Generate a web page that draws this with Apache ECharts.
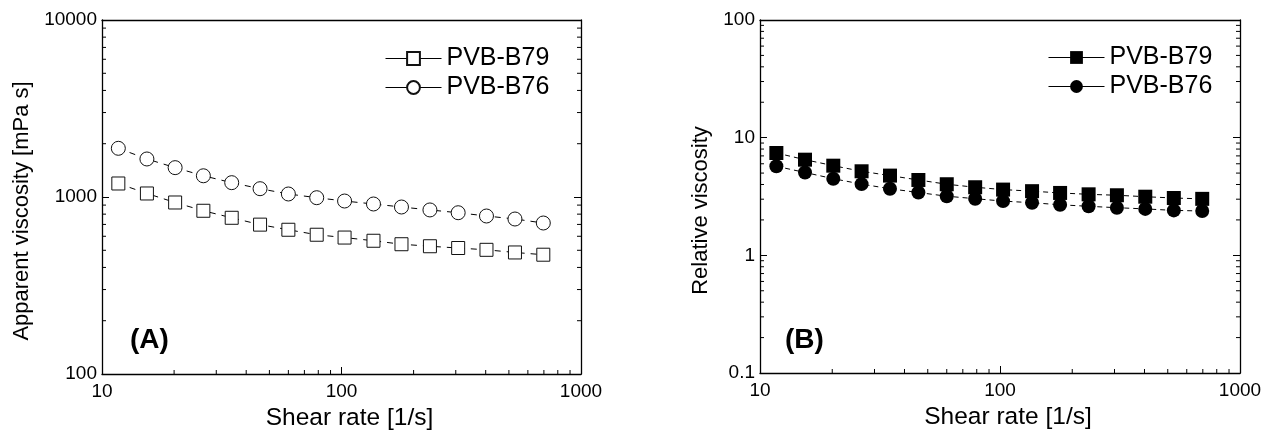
<!DOCTYPE html>
<html><head><meta charset="utf-8">
<script src="https://cdn.jsdelivr.net/npm/echarts@6/dist/echarts.min.js"></script>
<style>html,body{margin:0;padding:0;background:#fff}#c{width:1270px;height:437px}</style>
</head><body><div id="c"></div>
<script>
// ---- data ----
const shearRate = [11.7, 15.4, 20.2, 26.5, 34.8, 45.7, 60.0, 78.8, 103, 136, 178, 234, 307, 403, 530, 696];
const apparentB79 = [1192, 1047, 931, 836, 763, 698, 653, 612, 590, 566, 541, 527, 515, 503, 486, 472];
const apparentB76 = [1884, 1640, 1465, 1318, 1205, 1114, 1040, 991, 949, 913, 878, 845, 815, 781, 751, 713];
const relativeB79 = [7.41, 6.50, 5.78, 5.18, 4.76, 4.37, 4.02, 3.79, 3.62, 3.51, 3.39, 3.30, 3.24, 3.15, 3.07, 3.02];
const relativeB76 = [5.71, 5.06, 4.48, 4.03, 3.68, 3.42, 3.18, 3.03, 2.89, 2.80, 2.69, 2.61, 2.54, 2.48, 2.41, 2.38];
const seriesNames = ['PVB-B79', 'PVB-B76'];
const panelLabels = ['(A)', '(B)'];
const xTitle = 'Shear rate [1/s]';
const yTitles = ['Apparent viscosity [mPa s]', 'Relative viscosity'];
const xRange = [10, 1000];
const yRanges = [[100, 10000], [0.1, 100]];

const FONT = "'Liberation Sans', Arial, sans-serif";
const minorX = [];
for (const d of [10, 100]) for (let k = 2; k <= 9; k++) minorX.push(k * d);
function minorY(r) {
  const out = [];
  for (let d = r[0]; d < r[1]; d *= 10) for (let k = 2; k <= 9; k++) out.push(+(k * d).toPrecision(3));
  return out;
}
const zip = (xs, ys) => xs.map((x, i) => [x, ys[i]]);
const plainLabel = v => String(+Number(v).toPrecision(3));

const grids = [
  {left: 102, top: 20, width: 479, height: 354},
  {left: 760, top: 20, width: 480, height: 353}
];

const xAxes = [], yAxes = [], series = [];
[0, 1].forEach(g => {
  xAxes.push({
    type: 'log', logBase: 10, gridIndex: g, min: xRange[0], max: xRange[1],
    splitNumber: 2, position: 'bottom',
    axisLine: {show: true, onZero: false, lineStyle: {color: '#000', width: 1.3}},
    axisTick: {show: true, inside: true, length: 7, lineStyle: {color: '#000', width: 1}},
    axisLabel: {color: '#000', fontSize: 19, fontFamily: FONT, margin: 8, formatter: plainLabel},
    splitLine: {show: false},
    name: xTitle, nameLocation: 'middle', nameGap: 32,
    nameTextStyle: {color: '#000', fontSize: 24.5, fontFamily: FONT, padding: [0, 0, 0, 16]}
  });
  yAxes.push({
    type: 'log', logBase: 10, gridIndex: g, min: yRanges[g][0], max: yRanges[g][1],
    splitNumber: g === 0 ? 2 : 3, position: 'left',
    axisLine: {show: true, onZero: false, lineStyle: {color: '#000', width: 1.3}},
    axisTick: {show: true, inside: true, length: 7, lineStyle: {color: '#000', width: 1}},
    axisLabel: {color: '#000', fontSize: 19, fontFamily: FONT, margin: 5, formatter: plainLabel},
    splitLine: {show: false},
    name: yTitles[g], nameLocation: 'middle', nameGap: g === 0 ? 69 : 48,
    nameTextStyle: {color: '#000', fontSize: 22, fontFamily: FONT, padding: [0, 28, 0, 0]}
  });
});
[0, 1].forEach(g => {
  xAxes.push({
    type: 'log', logBase: 10, gridIndex: g, min: xRange[0], max: xRange[1], position: 'top',
    axisLine: {show: true, onZero: false, lineStyle: {color: '#000', width: 1.3}},
    axisTick: {show: false}, axisLabel: {show: false}, splitLine: {show: false}
  });
  yAxes.push({
    type: 'log', logBase: 10, gridIndex: g, min: yRanges[g][0], max: yRanges[g][1],
    splitNumber: g === 0 ? 2 : 3, position: 'right',
    axisLine: {show: true, onZero: false, lineStyle: {color: '#000', width: 1.3}},
    axisTick: {show: true, inside: true, length: 7, lineStyle: {color: '#000', width: 1}},
    axisLabel: {show: false}, splitLine: {show: false}
  });
});

// minor ticks (log 2..9) drawn through the axes' scales
function xTickSeries(g) {
  return {
    type: 'custom', xAxisIndex: g, yAxisIndex: g, silent: true, clip: false, z: 1,
    data: minorX.map(v => [v, yRanges[g][0]]),
    renderItem(params, api) {
      const p = api.coord([api.value(0), api.value(1)]);
      const cs = params.coordSys;
      const yb = cs.y + cs.height;
      return {type: 'line', shape: {x1: p[0], y1: yb, x2: p[0], y2: yb - 4},
        style: {stroke: '#000', lineWidth: 1}};
    }
  };
}
function yTickSeries(g) {
  return {
    type: 'custom', xAxisIndex: g, yAxisIndex: g, silent: true, clip: false, z: 1,
    data: minorY(yRanges[g]).map(v => [xRange[0], v]),
    renderItem(params, api) {
      const p = api.coord([api.value(0), api.value(1)]);
      const cs = params.coordSys;
      return {type: 'group', children: [
        {type: 'line', shape: {x1: cs.x, y1: p[1], x2: cs.x + 4, y2: p[1]}, style: {stroke: '#000', lineWidth: 1}},
        {type: 'line', shape: {x1: cs.x + cs.width, y1: p[1], x2: cs.x + cs.width - 4, y2: p[1]}, style: {stroke: '#000', lineWidth: 1}}
      ]};
    }
  };
}
series.push(xTickSeries(0), yTickSeries(0), xTickSeries(1), yTickSeries(1));

const dashed = {color: '#000', width: 1, type: [6, 6]};
series.push(
  {name: seriesNames[0], type: 'line', xAxisIndex: 0, yAxisIndex: 0, data: zip(shearRate, apparentB79),
   symbol: 'rect', symbolSize: 13, lineStyle: dashed,
   itemStyle: {color: '#fff', borderColor: '#111', borderWidth: 1}},
  {name: seriesNames[1], type: 'line', xAxisIndex: 0, yAxisIndex: 0, data: zip(shearRate, apparentB76),
   symbol: 'circle', symbolSize: 14, lineStyle: dashed,
   itemStyle: {color: '#fff', borderColor: '#111', borderWidth: 1}},
  {name: seriesNames[0] + ' (B)', type: 'line', xAxisIndex: 1, yAxisIndex: 1, data: zip(shearRate, relativeB79),
   symbol: 'rect', symbolSize: 14, lineStyle: {color: '#000', width: 1, type: [5, 4]},
   itemStyle: {color: '#000'}},
  {name: seriesNames[1] + ' (B)', type: 'line', xAxisIndex: 1, yAxisIndex: 1, data: zip(shearRate, relativeB76),
   symbol: 'circle', symbolSize: 14, lineStyle: {color: '#000', width: 1, type: [5, 4]},
   itemStyle: {color: '#000'}}
);

const legendBase = {
  orient: 'vertical', itemWidth: 56, itemHeight: 16, itemGap: 4, selectedMode: false,
  textStyle: {color: '#000', fontSize: 25, fontFamily: FONT},
  lineStyle: {type: 'solid', width: 1, color: '#000'},
  formatter: n => n.replace(' (B)', '')
};

const option = {
  animation: false,
  backgroundColor: '#fff',
  grid: grids,
  xAxis: xAxes,
  yAxis: yAxes,
  title: [
    {text: panelLabels[0], left: 130, top: 326, textStyle: {fontSize: 28, fontWeight: 'bold', color: '#000', fontFamily: FONT}, padding: 0},
    {text: panelLabels[1], left: 785, top: 326, textStyle: {fontSize: 28, fontWeight: 'bold', color: '#000', fontFamily: FONT}, padding: 0}
  ],
  legend: [
    Object.assign({}, legendBase, {left: 385, top: 46, padding: 0, data: seriesNames.slice()}),
    Object.assign({}, legendBase, {left: 1048, top: 45, padding: 0, data: seriesNames.map(n => n + ' (B)')})
  ],
  series: series
};
const chart = echarts.init(document.getElementById('c'), null, {renderer: 'canvas'});
chart.setOption(option);
</script>
</body></html>
